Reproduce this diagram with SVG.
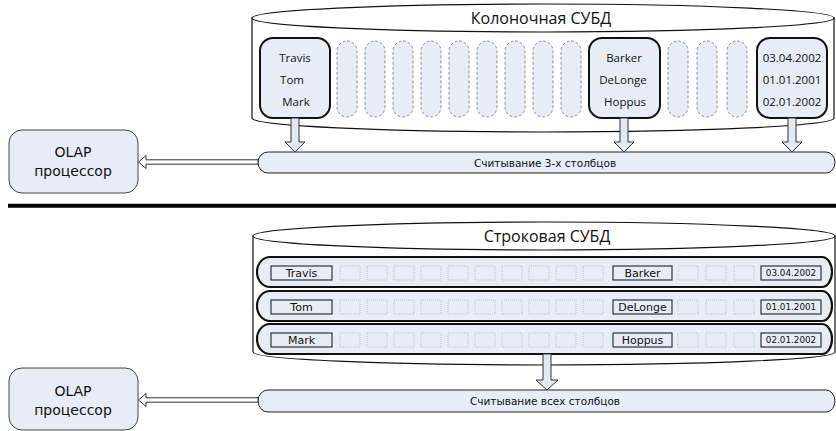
<svg xmlns="http://www.w3.org/2000/svg" width="836" height="431" viewBox="0 0 836 431">
<style>
.cyl{fill:#fff;stroke:#111;stroke-width:1.2}
.col{fill:#e7edf7;stroke:#111;stroke-width:2}
.dcol{fill:#e7edf7;stroke:#777;stroke-width:0.8;stroke-dasharray:3 2}
.row{fill:#e7edf7;stroke:#111;stroke-width:2.2}
.cell{fill:#e7edf7;stroke:#333;stroke-width:1.2}
.dcell{fill:none;stroke:#b8b8b8;stroke-width:0.8;stroke-dasharray:1 1}
.bus{fill:#e7edf7;stroke:#222;stroke-width:1}
.olap{fill:#e7edf7;stroke:#444;stroke-width:1}
.arr{fill:#e3e9f3;stroke:#333;stroke-width:1}
.harr{fill:#fff;stroke:#333;stroke-width:1}
text{fill:#111;text-anchor:middle;font-family:"DejaVu Sans",sans-serif}
.title{font-family:"Open Sans","DejaVu Sans",sans-serif;font-size:16px}
.ct{font-family:"Open Sans","DejaVu Sans",sans-serif;font-size:11.5px}
.rt{font-size:11px}
.dt{font-size:8.8px}
.bt{font-size:10.5px}
.ot{font-size:14px}
</style>

<g id="column-dbms">
  <path class="cyl" d="M252,18 V118 A291,14 0 0 0 834,118 V18 Z"/>
  <ellipse class="cyl" cx="543" cy="18" rx="291" ry="14"/>
  <text class="title" x="541" y="24">Колоночная СУБД</text>
</g>

<g id="col-empty">
  <rect class="dcol" x="337" y="41" width="20" height="76" rx="10"/>
  <rect class="dcol" x="365" y="41" width="20" height="76" rx="10"/>
  <rect class="dcol" x="393" y="41" width="20" height="76" rx="10"/>
  <rect class="dcol" x="421" y="41" width="20" height="76" rx="10"/>
  <rect class="dcol" x="449" y="41" width="20" height="76" rx="10"/>
  <rect class="dcol" x="477" y="41" width="20" height="76" rx="10"/>
  <rect class="dcol" x="505" y="41" width="20" height="76" rx="10"/>
  <rect class="dcol" x="533" y="41" width="20" height="76" rx="10"/>
  <rect class="dcol" x="561" y="41" width="20" height="76" rx="10"/>
  <rect class="dcol" x="668" y="41" width="20" height="76" rx="10"/>
  <rect class="dcol" x="697" y="41" width="20" height="76" rx="10"/>
  <rect class="dcol" x="727" y="41" width="20" height="76" rx="10"/>
</g>

<g id="col-first">
  <rect class="col" x="260" y="38" width="70" height="80" rx="13"/>
  <text class="ct" x="295" y="62">Travis</text>
  <text class="ct" x="292" y="84">Tom</text>
  <text class="ct" x="296" y="106">Mark</text>
</g>
<g id="col-last">
  <rect class="col" x="589" y="38" width="71" height="80" rx="13"/>
  <text class="ct" x="624" y="62">Barker</text>
  <text class="ct" x="623" y="84">DeLonge</text>
  <text class="ct" x="625" y="106">Hoppus</text>
</g>
<g id="col-date">
  <rect class="col" x="757" y="38" width="70" height="80" rx="13"/>
  <text class="ct" x="792" y="62">03.04.2002</text>
  <text class="ct" x="792" y="84">01.01.2001</text>
  <text class="ct" x="792" y="106">02.01.2002</text>
</g>

<g id="bus-top">
  <path class="bus" d="M268,152 H826 A9,10.5 0 0 1 826,173 H268 A10,10.5 0 0 1 268,152 Z"/>
  <text class="bt" x="545" y="166.5">Считывание 3-х столбцов</text>
</g>

<g id="olap-top">
  <rect class="olap" x="9" y="130" width="129" height="63" rx="13"/>
  <text class="ot" x="73" y="156.5">OLAP</text>
  <text class="ot" x="73" y="175.5">процессор</text>
</g>

<line x1="8" y1="205.8" x2="836" y2="205.8" stroke="#000" stroke-width="4"/>

<g id="row-dbms">
  <path class="cyl" d="M253,236 V352 A291,13 0 0 0 835,352 V236 Z"/>
  <ellipse class="cyl" cx="544" cy="236" rx="291" ry="14"/>
  <text class="title" x="547" y="242">Строковая СУБД</text>
</g>

<g id="row-1">
  <path class="row" d="M270,257 H822 A10,15 0 0 1 822,287 H270 A13,15 0 0 1 270,257 Z"/>
</g>
<g id="row-2">
  <path class="row" d="M270,291 H822 A10,15 0 0 1 822,321 H270 A13,15 0 0 1 270,291 Z"/>
</g>
<g id="row-3">
  <path class="row" d="M270,324 H822 A10,15 0 0 1 822,354 H270 A13,15 0 0 1 270,324 Z"/>
</g>

<g id="row-cells-empty">
  <g id="dc1">
    <rect class="dcell" x="340" y="266" width="20" height="14"/><rect class="dcell" x="367" y="266" width="20" height="14"/><rect class="dcell" x="394" y="266" width="20" height="14"/><rect class="dcell" x="421" y="266" width="20" height="14"/><rect class="dcell" x="448" y="266" width="20" height="14"/><rect class="dcell" x="475" y="266" width="20" height="14"/><rect class="dcell" x="502" y="266" width="20" height="14"/><rect class="dcell" x="529" y="266" width="20" height="14"/><rect class="dcell" x="556" y="266" width="20" height="14"/><rect class="dcell" x="583" y="266" width="20" height="14"/><rect class="dcell" x="678" y="266" width="20" height="14"/><rect class="dcell" x="706" y="266" width="20" height="14"/><rect class="dcell" x="734" y="266" width="20" height="14"/>
  </g>
  <use href="#dc1" y="34"/>
  <use href="#dc1" y="67"/>
</g>

<g id="row-1-cells">
  <rect class="cell" x="271" y="266" width="61" height="14"/>
  <text class="rt" x="301.5" y="277">Travis</text>
  <rect class="cell" x="613" y="266" width="59" height="14"/>
  <text class="rt" x="642.5" y="277">Barker</text>
  <rect class="cell" x="761" y="266" width="60" height="14"/>
  <text class="dt" x="791" y="276.3">03.04.2002</text>
</g>
<g id="row-2-cells">
  <rect class="cell" x="271" y="300" width="61" height="14"/>
  <text class="rt" x="301.5" y="311">Tom</text>
  <rect class="cell" x="613" y="300" width="59" height="14"/>
  <text class="rt" x="642.5" y="311">DeLonge</text>
  <rect class="cell" x="761" y="300" width="60" height="14"/>
  <text class="dt" x="791" y="310.3">01.01.2001</text>
</g>
<g id="row-3-cells">
  <rect class="cell" x="271" y="333" width="61" height="14"/>
  <text class="rt" x="301.5" y="344">Mark</text>
  <rect class="cell" x="613" y="333" width="59" height="14"/>
  <text class="rt" x="642.5" y="344">Hoppus</text>
  <rect class="cell" x="761" y="333" width="60" height="14"/>
  <text class="dt" x="791" y="343.3">02.01.2002</text>
</g>

<g id="bus-bottom">
  <path class="bus" d="M268,390 H826 A9,11 0 0 1 826,412 H268 A10,11 0 0 1 268,390 Z"/>
  <text class="bt" x="545" y="404.5">Считывание всех столбцов</text>
</g>

<g id="olap-bottom">
  <rect class="olap" x="9" y="368" width="129" height="62" rx="13"/>
  <text class="ot" x="73" y="395.5">OLAP</text>
  <text class="ot" x="73" y="414.5">процессор</text>
</g>

<g id="connectors">
  <path class="arr" d="M291,118 V142 H285 L295,152 L305,142 H299 V118 Z"/>
  <path class="arr" d="M620,118 V142 H614 L624,152 L634,142 H628 V118 Z"/>
  <path class="arr" d="M788,118 V142 H782 L792,152 L802,142 H796 V118 Z"/>
  <path class="harr" d="M138.5,162 L146,155.5 L146,159.8 L258,159.8 L258,164.2 L146,164.2 L146,168.5 Z"/>
  <path class="arr" d="M543,354 V380 H536 L547,390 L558,380 H551 V354 Z"/>
  <path class="harr" d="M138.5,400 L146,393.5 L146,397.8 L258,397.8 L258,402.2 L146,402.2 L146,406.5 Z"/>
</g>
</svg>
